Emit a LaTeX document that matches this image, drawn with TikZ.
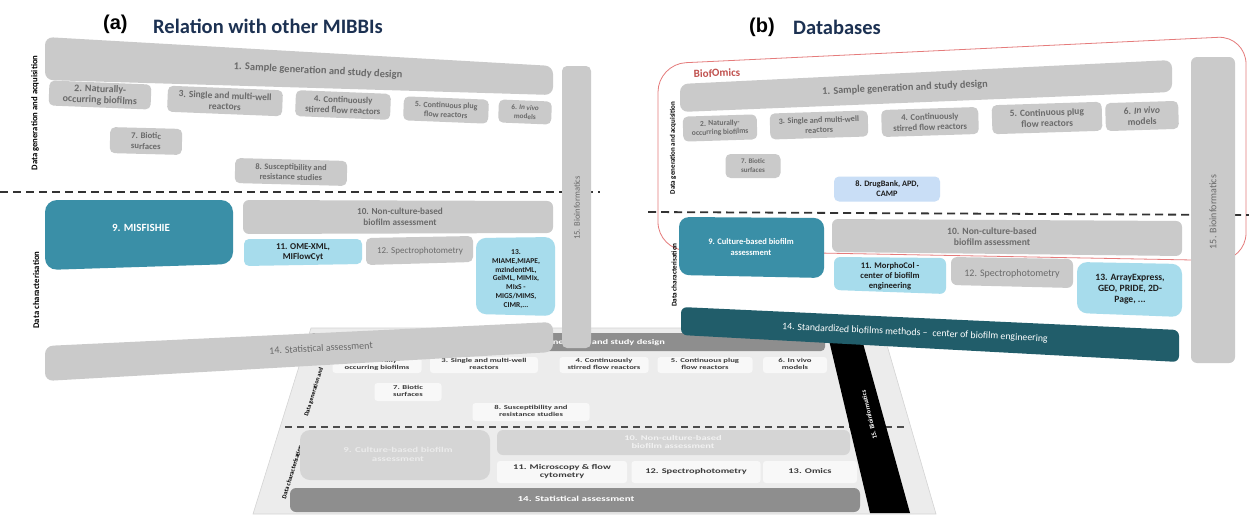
\documentclass[tikz,border=0pt]{standalone}
\usepackage{fontspec}
\setmainfont{Carlito}
\newfontfamily\arialf{Liberation Sans}
\definecolor{boxgray}{HTML}{CACACA}
\definecolor{txtgray}{HTML}{6A6A6A}
\definecolor{teal9}{HTML}{3A8FA7}
\definecolor{tealdk}{HTML}{215D6A}
\definecolor{lblue}{HTML}{A7DCEC}
\definecolor{lblue8}{HTML}{C9DEF6}
\definecolor{navy}{HTML}{1C3152}
\definecolor{redl}{HTML}{E57B7B}
\definecolor{biofred}{HTML}{C0504D}
\definecolor{plane}{HTML}{ECECEC}
\definecolor{planeedge}{HTML}{D4D4D4}
\definecolor{pbox}{HTML}{F8F8F8}
\definecolor{pdark}{HTML}{8E8E8E}
\definecolor{plight}{HTML}{D5D5D5}
\definecolor{ptext}{HTML}{3A3A3A}
\definecolor{dtext}{HTML}{1E1E1E}
\newcommand\fsz[2]{\fontsize{#1}{#2}\selectfont}
\newcommand\wst[2]{\scalebox{#1}[1]{\begin{tabular}{@{}c@{}}#2\end{tabular}}}
\tikzset{
  gbox/.style={fill=boxgray, rounded corners=5pt, text=txtgray, align=center, inner sep=0pt},
  gt/.style={text=txtgray, align=center, inner sep=0pt},
  dt/.style={text=dtext, align=center, inner sep=0pt},
  wt/.style={text=white, align=center, inner sep=0pt},
  side/.style={text=black, inner sep=0pt},
  pbx/.style={fill=pbox, rounded corners=3pt, text=ptext, inner sep=0pt, font=\bfseries\fsz{6}{7}},
  pwt/.style={text=white, inner sep=0pt, font=\bfseries\fsz{7.2}{8.4}},
  sep/.style={dash pattern=on 8pt off 5pt, line width=1.8pt, color=black!80},
}
\begin{document}
\begin{tikzpicture}[x=1pt,y=-1pt]
\useasboundingbox (0,0) rectangle (1249,514);
\fill[white] (0,0) rectangle (1249,514);

% ================= bottom panel (original framework) =================
\fill[plane, draw=planeedge, line width=0.6pt] (311,328) -- (882,328) -- (936,514) -- (253,514) -- cycle;
\fill[pdark, rounded corners=4pt] (310,333) rectangle (825,351);
\node[pwt] (c1) at (581,343) {\wst{1.45}{1. Sample generation and study design}};
\node[pbx, minimum width=89, minimum height=16] (c2) at (377,365) {\wst{1.45}{2. Naturally-\\occurring biofilms}};
\node[pbx, minimum width=108, minimum height=16] (c3) at (484,365) {\wst{1.45}{3. Single and multi-well\\reactors}};
\node[pbx, minimum width=89, minimum height=16] (c4) at (604,365) {\wst{1.45}{4. Continuously\\stirred flow reactors}};
\node[pbx, minimum width=95, minimum height=16] (c5) at (705,365) {\wst{1.45}{5. Continuous plug\\flow reactors}};
\node[pbx, minimum width=64, minimum height=16] (c6) at (795,365) {\wst{1.45}{6. In vivo\\models}};
\node[pbx, minimum width=67, minimum height=18] (c7) at (408,392) {\wst{1.45}{7. Biotic\\surfaces}};
\node[pbx, minimum width=117, minimum height=18] (c8) at (531,412) {\wst{1.45}{8. Susceptibility and\\resistance studies}};
\draw[dash pattern=on 7pt off 5pt, line width=1.5pt, color=black!70] (285,427) -- (905,427);
\node[side, font=\bfseries\fsz{6}{7}, rotate=72.6] (cl1) at (314,392) {Data generation and};
\node[side, font=\bfseries\fsz{6.3}{7}, rotate=72.6] (cl2) at (292,472) {Data characterisation};
\fill[plight, rounded corners=10pt] (300,430) rectangle (490,480);
\node[pwt, text=white!92!black, font=\bfseries\fsz{7.5}{9}] (c9) at (398,455) {\wst{1.45}{9. Culture-based biofilm\\assessment}};
\fill[plight, rounded corners=6pt] (497,430) rectangle (850,455);
\node[pwt, text=white!95!black] (c10) at (673,443) {\wst{1.45}{10. Non-culture-based\\biofilm assessment}};
\node[pbx, minimum width=130, minimum height=22, font=\bfseries\fsz{7.2}{8.2}] (c11) at (562,472) {\wst{1.45}{11. Microscopy \& flow\\cytometry}};
\node[pbx, minimum width=129, minimum height=22, font=\bfseries\fsz{7.2}{8.2}] (c12) at (696,472) {\wst{1.45}{12. Spectrophotometry}};
\node[pbx, minimum width=94, minimum height=22, font=\bfseries\fsz{7.2}{8.2}] (c13) at (810,472) {\wst{1.45}{13. Omics}};
\fill[pdark, rounded corners=6pt] (290,488) rectangle (860,512);
\node[pwt, font=\bfseries\fsz{7.6}{9}] (c14) at (576,500) {\wst{1.45}{14. Statistical assessment}};
\fill[black] (828,336) -- (861,336) -- (910,513) -- (870,513) -- cycle;
\node[wt, font=\bfseries\fsz{6.6}{7.5}, rotate=103.4] (c15) at (869,415) {15. Bioinformatics};

% ================= panel (a) =================
\node[font=\arialf\bfseries\fsz{20}{24}, anchor=base west, inner sep=0pt] (ta) at (103,29) {(a)};
\node[font=\bfseries\fsz{20.5}{24}, text=navy, anchor=base west, inner sep=0pt] (tat) at (153,33) {Relation with other MIBBIs};

\fill[boxgray, rounded corners=8pt] (45,37) -- (553,66) -- (553,95) -- (45,80) -- cycle;
\node[gt, font=\bfseries\fsz{10.5}{12}, rotate=-3] (a1) at (318,71) {1. Sample generation and study design};
\node[gbox, minimum width=102, minimum height=25, rotate=-2.3, font=\bfseries\fsz{10}{11}] (a2) at (100,95) {2. Naturally-\\occurring biofilms};
\node[gbox, minimum width=115, minimum height=26, rotate=-2.3, font=\bfseries\fsz{9.5}{11}] (a3) at (225,101) {3. Single and multi-well\\reactors};
\node[gbox, minimum width=95, minimum height=26, rotate=-2.3, font=\bfseries\fsz{9}{10.5}] (a4) at (343,105) {4. Continuously\\stirred flow reactors};
\node[gbox, minimum width=85, minimum height=24, rotate=-2.3, font=\bfseries\fsz{8}{9.5}] (a5) at (446,110) {5. Continuous plug\\flow reactors};
\node[gbox, minimum width=53, minimum height=23, rotate=-2.3, font=\bfseries\fsz{7.2}{9}] (a6) at (525,112) {6. \textit{In vivo}\\models};
\node[gbox, minimum width=72, minimum height=26, rotate=-1.5, font=\bfseries\fsz{8.7}{10.5}] (a7) at (146,141) {7. Biotic\\surfaces};
\node[gbox, minimum width=112, minimum height=25, rotate=-1.5, font=\bfseries\fsz{8.5}{10}] (a8) at (291,172) {8. Susceptibility and\\resistance studies};
\node[side, font=\bfseries\fsz{8.7}{10}, rotate=90] (la1) at (35,113) {Data generation and acquisition};
\node[side, font=\bfseries\fsz{8.7}{10}, rotate=90] (la2) at (36,290) {Data characterisation};
\draw[sep] (0,192) -- (600,192);
\fill[boxgray, rounded corners=5pt] (562,66) rectangle (591,348);
\node[gt, font=\fsz{8.6}{10}, rotate=90] (a15) at (577,208) {15. Bioinformatics};
\fill[teal9, rounded corners=12pt] (45,200) -- (233,200) -- (233,264) -- (45,270) -- cycle;
\node[wt, font=\bfseries\fsz{11}{12}] (a9) at (141,228) {9. MISFISHIE};
\fill[boxgray, rounded corners=6pt] (243,200) -- (553,201) -- (553,233) -- (243,234) -- cycle;
\node[gt, font=\bfseries\fsz{9.2}{10.5}] (a10) at (400,217) {10. Non-culture-based\\biofilm assessment};
\fill[lblue, rounded corners=5pt] (244,239) -- (362,239) -- (362,264) -- (244,266) -- cycle;
\node[dt, font=\bfseries\fsz{9}{10}] (a11) at (303,252) {11. OME-XML,\\MIFlowCyt};
\fill[boxgray, rounded corners=5pt] (366,238) -- (473,236) -- (473,262) -- (366,265) -- cycle;
\node[gt, font=\fsz{9}{10}] (a12) at (420,251) {12. Spectrophotometry};
\fill[lblue, rounded corners=10pt] (476,238) -- (555,237) -- (555,316) -- (476,314) -- cycle;
\node[dt, font=\bfseries\fsz{7.5}{8.7}] (a13) at (516,279) {13.\\MIAME,MIAPE,\\mzIndentML,\\GelML, MIMIx,\\MIxS -\\MIGS/MIMS,\\CIMR,...};
\fill[boxgray, rounded corners=8pt] (45,346) -- (553,322) -- (553,352) -- (45,381) -- cycle;
\node[gt, font=\fsz{10}{12}, rotate=3] (a14) at (321,348) {14. Statistical assessment};

% ================= panel (b) =================
\node[font=\arialf\bfseries\fsz{20}{24}, anchor=base west, inner sep=0pt] (tb) at (749,32) {(b)};
\node[font=\bfseries\fsz{20.5}{24}, text=navy, anchor=base west, inner sep=0pt] (tbt) at (793,34) {Databases};
\draw[redl, line width=0.8pt, rounded corners=28pt] (658,160) -- (658,250) -- (1246,261) -- (1246,36) -- (658,64) -- cycle;
\node[font=\bfseries\fsz{11}{13}, text=biofred, rotate=2, inner sep=0pt] (bio) at (717,73) {BiofOmics};
\fill[boxgray, rounded corners=8pt] (680,84) -- (1172,60) -- (1172,92) -- (680,112) -- cycle;
\node[gt, font=\bfseries\fsz{10.3}{12}, rotate=2.7] (b1) at (905,88) {1. Sample generation and study design};
\node[gbox, minimum width=74, minimum height=25, rotate=1.8, font=\bfseries\fsz{7.6}{9}] (b2) at (720,128) {2. Naturally-\\occurring biofilms};
\node[gbox, minimum width=98, minimum height=26, rotate=1.8, font=\bfseries\fsz{8.2}{10}] (b3) at (819,125) {3. Single and multi-well\\reactors};
\node[gbox, minimum width=97, minimum height=27, rotate=1.8, font=\bfseries\fsz{8.8}{10.5}] (b4) at (930,122) {4. Continuously\\stirred flow reactors};
\node[gbox, minimum width=110, minimum height=29, rotate=1.8, font=\bfseries\fsz{9.5}{11}] (b5) at (1047,118) {5. Continuous plug\\flow reactors};
\node[gbox, minimum width=73, minimum height=28, rotate=1.8, font=\bfseries\fsz{9.5}{11}] (b6) at (1142,116) {6. \textit{In vivo}\\models};
\node[gbox, minimum width=55, minimum height=24, font=\bfseries\fsz{7}{9}] (b7) at (753,166) {7. Biotic\\surfaces};
\node[gbox, fill=lblue8, text=dtext, minimum width=106, minimum height=25, font=\bfseries\fsz{8.3}{10}] (b8) at (887,189) {8. DrugBank, APD,\\CAMP};
\node[side, font=\bfseries\fsz{7}{8}, rotate=90] (lb1) at (673,148) {Data generation and acquisition};
\node[side, font=\bfseries\fsz{7.2}{8}, rotate=90] (lb2) at (674,275) {Data characterisation};
\draw[sep] (648,212) -- (1249,215);
\fill[boxgray, rounded corners=6pt] (1191,57) rectangle (1235,363);
\node[gt, font=\fsz{10}{12}, rotate=90] (b15) at (1213,212) {15. Bioinformatics};
\fill[teal9, rounded corners=10pt] (679,217) -- (824,218) -- (824,278) -- (679,275) -- cycle;
\node[wt, font=\bfseries\fsz{8.5}{10.5}] (b9) at (751,247) {9. Culture-based biofilm\\assessment};
\fill[boxgray, rounded corners=6pt] (832,219) -- (1182,221) -- (1182,256) -- (832,252) -- cycle;
\node[gt, font=\bfseries\fsz{9.6}{11}] (b10) at (992,237) {10. Non-culture-based\\biofilm assessment};
\fill[lblue, rounded corners=6pt] (834,257) -- (946,258) -- (946,294) -- (834,290) -- cycle;
\node[dt, font=\bfseries\fsz{8.6}{10}] (b11) at (890,276) {11. MorphoCol -\\center of biofilm\\engineering};
\fill[boxgray, rounded corners=6pt] (951,257) -- (1073,259) -- (1073,288) -- (951,285) -- cycle;
\node[gt, font=\fsz{10}{12}] (b12) at (1012,274) {12. Spectrophotometry};
\fill[lblue, rounded corners=10pt] (1077,262) -- (1182,264) -- (1182,317) -- (1077,313) -- cycle;
\node[dt, font=\bfseries\fsz{9.6}{11}] (b13) at (1130,289) {13. ArrayExpress,\\GEO, PRIDE, 2D-\\Page, ...};
\fill[tealdk, rounded corners=6pt] (681,307) -- (1179,330) -- (1179,362) -- (681,335) -- cycle;
\node[wt, font=\fsz{9.8}{12}, rotate=-2.6] (b14) at (915,333) {14. Standardized biofilms methods --\enspace center of biofilm engineering};
\end{tikzpicture}
\end{document}
